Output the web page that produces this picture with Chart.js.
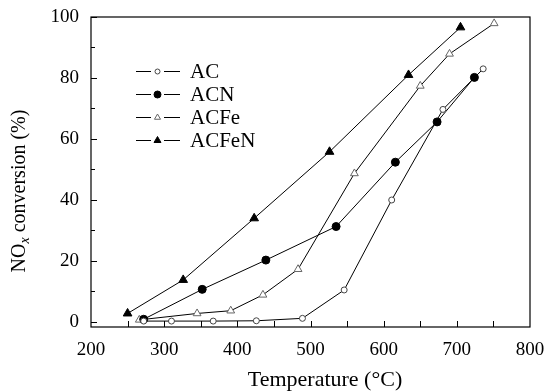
<!DOCTYPE html>
<html><head><meta charset="utf-8">
<script src="https://cdn.jsdelivr.net/npm/chart.js@4/dist/chart.umd.min.js"></script>
<style>html,body{margin:0;padding:0;background:#fff}#wrap{width:550px;height:392px}</style>
</head><body><div id="wrap"><canvas id="c" width="550" height="392"></canvas></div>
<script>
const seriesNames = ['AC', 'ACN', 'ACFe', 'ACFeN'];
const acTemp = [272, 310, 367, 426, 489, 546, 611, 681, 736];
const acConv = [0.3, 0.3, 0.3, 0.4, 1.2, 10.5, 40, 69.7, 83];
const acnTemp = [272, 352, 439, 535, 616, 673, 724];
const acnConv = [0.9, 10.7, 20.3, 31.3, 52.4, 65.6, 80.2];
const acfeTemp = [266, 345, 391, 435, 483, 560, 650, 690, 751];
const acfeConv = [0.7, 2.8, 3.7, 8.9, 17.3, 48.7, 77.4, 87.9, 97.9];
const acfenTemp = [250, 326, 423, 526, 634, 705];
const acfenConv = [2.8, 13.8, 34, 55.8, 81, 96.6];
const xTickLabels = [200, 300, 400, 500, 600, 700, 800];
const xTickMarks = [250, 300, 350, 400, 450, 500, 550, 600, 650, 700, 750];
const yTickLabels = [0, 20, 40, 60, 80, 100];
const yMinorMarks = [10, 30, 50, 70, 90];
const xTitle = 'Temperature (°C)';

const SERIF = '"Liberation Serif", "Times New Roman", serif';
const zip = (xs, ys) => xs.map((x, i) => ({x, y: ys[i]}));

const styles = [
  {pointStyle: 'circle', radius: 3, bg: '#fff', border: '#444'},
  {pointStyle: 'circle', radius: 4, bg: '#000', border: '#000'},
  {pointStyle: 'triangle', radius: 4.5, bg: '#fff', border: '#666'},
  {pointStyle: 'triangle', radius: 5, bg: '#000', border: '#000'}
];
const series = [zip(acTemp, acConv), zip(acnTemp, acnConv), zip(acfeTemp, acfeConv), zip(acfenTemp, acfenConv)];

const datasets = series.map((d, i) => ({
  label: seriesNames[i],
  data: d,
  borderColor: '#000',
  borderWidth: 1,
  pointStyle: styles[i].pointStyle,
  pointRadius: styles[i].radius,
  pointBackgroundColor: styles[i].bg,
  pointBorderColor: styles[i].border,
  pointBorderWidth: 1,
  fill: false,
  tension: 0
}));

function drawMarker(ctx, st, x, y, r) {
  ctx.save();
  ctx.beginPath();
  if (st.pointStyle === 'circle') {
    ctx.arc(x, y, r, 0, Math.PI * 2);
  } else {
    ctx.moveTo(x, y - r);
    ctx.lineTo(x + r * 0.87, y + r * 0.5);
    ctx.lineTo(x - r * 0.87, y + r * 0.5);
    ctx.closePath();
  }
  ctx.fillStyle = st.bg; ctx.fill();
  ctx.strokeStyle = st.border; ctx.lineWidth = 1; ctx.stroke();
  ctx.restore();
}

const decor = {
  id: 'decor',
  afterDraw(chart) {
    const ctx = chart.ctx, a = chart.chartArea;
    const xs = chart.scales.x, ys = chart.scales.y;
    ctx.save();
    ctx.strokeStyle = '#000';
    ctx.lineWidth = 1.2;
    ctx.strokeRect(a.left, a.top, a.right - a.left, a.bottom - a.top);
    ctx.lineWidth = 1;
    ctx.beginPath();
    xTickMarks.forEach(v => {
      const px = Math.round(xs.getPixelForValue(v)) + 0.5;
      ctx.moveTo(px, a.bottom); ctx.lineTo(px, a.bottom - 6);
    });
    yTickLabels.forEach(v => {
      const py = Math.round(ys.getPixelForValue(v)) + 0.5;
      ctx.moveTo(a.left, py); ctx.lineTo(a.left + 6, py);
    });
    yMinorMarks.forEach(v => {
      const py = Math.round(ys.getPixelForValue(v)) + 0.5;
      ctx.moveTo(a.left, py); ctx.lineTo(a.left + 4, py);
    });
    ctx.stroke();

    // legend
    const rowsY = [71, 94, 117, 140];
    const legStyles = [
      {pointStyle: 'circle', bg: '#fff', border: '#444', r: 2.5},
      {pointStyle: 'circle', bg: '#000', border: '#000', r: 3.5},
      {pointStyle: 'triangle', bg: '#fff', border: '#666', r: 3.5},
      {pointStyle: 'triangle', bg: '#000', border: '#000', r: 4}
    ];
    ctx.font = '21px ' + SERIF;
    ctx.fillStyle = '#000';
    ctx.textBaseline = 'middle';
    ctx.textAlign = 'left';
    seriesNames.forEach((n, i) => {
      const y = rowsY[i] + 0.5;
      ctx.beginPath();
      ctx.strokeStyle = '#000'; ctx.lineWidth = 1;
      ctx.moveTo(136, y); ctx.lineTo(151, y);
      ctx.moveTo(164, y); ctx.lineTo(180, y);
      ctx.stroke();
      drawMarker(ctx, legStyles[i], 157.5, y, legStyles[i].r);
      ctx.fillText(n, 190, rowsY[i] + 1);
    });

    // x title
    ctx.font = '22px ' + SERIF;
    ctx.textAlign = 'center';
    ctx.textBaseline = 'alphabetic';
    ctx.fillText(xTitle, 325, 386);

    // y title with subscript
    ctx.save();
    ctx.translate(25, 191);
    ctx.rotate(-Math.PI / 2);
    const f1 = '20px ' + SERIF, f2 = 'italic 14px ' + SERIF;
    const p1 = 'NO', p2 = 'x', p3 = ' conversion (%)';
    ctx.font = f1; const w1 = ctx.measureText(p1).width, w3 = ctx.measureText(p3).width;
    ctx.font = f2; const w2 = ctx.measureText(p2).width;
    let x0 = -(w1 + w2 + w3) / 2;
    ctx.textAlign = 'left';
    ctx.font = f1; ctx.fillText(p1, x0, 0); x0 += w1;
    ctx.font = f2; ctx.fillText(p2, x0, 4); x0 += w2;
    ctx.font = f1; ctx.fillText(p3, x0, 0);
    ctx.restore();
    ctx.restore();
  }
};

function zeroPad(s) { s.paddingLeft = 0; s.paddingRight = 0; s.paddingTop = 0; s.paddingBottom = 0; }

new Chart(document.getElementById('c'), {
  type: 'line',
  data: {datasets},
  options: {
    responsive: false,
    animation: false,
    devicePixelRatio: 1,
    layout: {padding: {top: 17, right: 20, left: 0, bottom: 0}},
    plugins: {legend: {display: false}, tooltip: {enabled: false}},
    scales: {
      x: {
        type: 'linear', min: 200, max: 800,
        afterFit: s => { s.height = 65; zeroPad(s); },
        afterBuildTicks: s => { s.ticks = xTickLabels.map(v => ({value: v})); },
        grid: {display: false, drawTicks: false},
        border: {display: false},
        ticks: {color: '#000', font: {family: SERIF, size: 19}, padding: 12, maxRotation: 0, autoSkip: false}
      },
      y: {
        type: 'linear', min: -1.64, max: 100,
        afterFit: s => { s.width = 91; zeroPad(s); },
        afterBuildTicks: s => { s.ticks = yTickLabels.map(v => ({value: v})); },
        grid: {display: false, drawTicks: false},
        border: {display: false},
        ticks: {color: '#000', font: {family: SERIF, size: 19}, padding: 12, autoSkip: false}
      }
    }
  },
  plugins: [decor]
});
</script>
</body></html>
